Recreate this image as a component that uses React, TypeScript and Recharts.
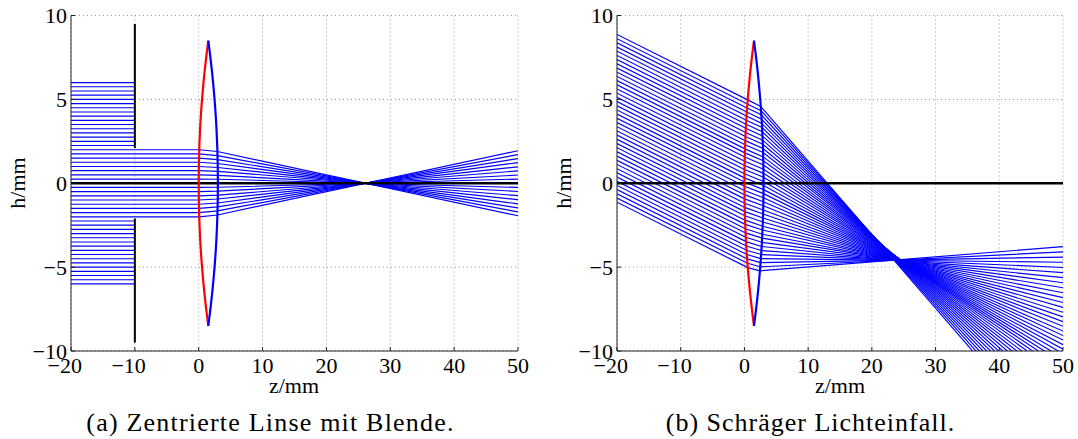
import React from 'react';
import { LineChart, Line, XAxis, YAxis, CartesianGrid } from 'recharts';

const zTicks = [-20, -10, 0, 10, 20, 30, 40, 50];
const hTicks = [-10, -5, 0, 5, 10];

// lens outline, one height list and the two surfaces
const lensH = [8.5, 8, 7.5, 7, 6.5, 6, 5.5, 5, 4.5, 4, 3.5, 3, 2.5, 2, 1.5, 1, 0.5, 0, -0.5, -1, -1.5, -2, -2.5, -3, -3.5, -4, -4.5, -5, -5.5, -6, -6.5, -7, -7.5, -8, -8.5];
const lensFrontZ = [1.5, 1.33, 1.17, 1.02, 0.88, 0.75, 0.63, 0.52, 0.42, 0.33, 0.25, 0.19, 0.13, 0.08, 0.05, 0.02, 0.01, 0, 0.01, 0.02, 0.05, 0.08, 0.13, 0.19, 0.25, 0.33, 0.42, 0.52, 0.63, 0.75, 0.88, 1.02, 1.17, 1.33, 1.5];
const lensBackZ = [1.5, 1.67, 1.83, 1.98, 2.12, 2.25, 2.37, 2.48, 2.58, 2.67, 2.75, 2.81, 2.87, 2.92, 2.95, 2.98, 2.99, 3, 2.99, 2.98, 2.95, 2.92, 2.87, 2.81, 2.75, 2.67, 2.58, 2.48, 2.37, 2.25, 2.12, 1.98, 1.83, 1.67, 1.5];

// panel (a): rays stopped by the aperture
const blockedH = [6, 5.75, 5.5, 5.25, 5, 4.75, 4.5, 4.25, 4, 3.75, 3.5, 3.25, 3, 2.75, 2.5, 2.25, -2.25, -2.5, -2.75, -3, -3.25, -3.5, -3.75, -4, -4.25, -4.5, -4.75, -5, -5.25, -5.5, -5.75, -6];
// panel (a): rays through the opening
const openH = [2, 1.75, 1.5, 1.25, 1, 0.75, 0.5, 0.25, 0, -0.25, -0.5, -0.75, -1, -1.25, -1.5, -1.75, -2];
const openFrontZ = [0.08, 0.06, 0.05, 0.03, 0.02, 0.01, 0.01, 0, 0, 0, 0.01, 0.01, 0.02, 0.03, 0.05, 0.06, 0.08];
const openBackZ = [2.92, 2.94, 2.96, 2.97, 2.98, 2.99, 2.99, 3, 3, 3, 2.99, 2.99, 2.98, 2.97, 2.96, 2.94, 2.92];
const openBackH = [1.89, 1.65, 1.41, 1.18, 0.94, 0.71, 0.47, 0.24, 0, -0.24, -0.47, -0.71, -0.94, -1.18, -1.41, -1.65, -1.89];
const openEndH = [-1.94, -1.71, -1.47, -1.23, -0.98, -0.74, -0.49, -0.25, 0, 0.25, 0.49, 0.74, 0.98, 1.23, 1.47, 1.71, 1.94];

// panel (b): oblique rays
const slantStartH = [8.87, 8.62, 8.37, 8.12, 7.87, 7.62, 7.37, 7.12, 6.87, 6.62, 6.37, 6.12, 5.87, 5.62, 5.37, 5.12, 4.87, 4.62, 4.37, 4.12, 3.87, 3.62, 3.37, 3.12, 2.87, 2.62, 2.37, 2.12, 1.87, 1.62, 1.37, 1.12, 0.87, 0.62, 0.37, 0.12, -0.13, -0.38, -0.63, -0.88, -1.13];
const slantFrontZ = [0.51, 0.46, 0.42, 0.375, 0.33, 0.295, 0.257, 0.223, 0.19, 0.162, 0.134, 0.11, 0.087, 0.068, 0.05, 0.036, 0.023, 0.014, 0.007, 0.002, 0, 0.001, 0.004, 0.01, 0.018, 0.029, 0.042, 0.059, 0.078, 0.1, 0.125, 0.152, 0.18, 0.215, 0.25, 0.29, 0.33, 0.38, 0.43, 0.48, 0.53];
const slantFrontH = [4.97, 4.73, 4.49, 4.25, 4.01, 3.76, 3.52, 3.28, 3.03, 2.79, 2.54, 2.3, 2.05, 1.81, 1.56, 1.31, 1.06, 0.82, 0.57, 0.32, 0.07, -0.18, -0.43, -0.68, -0.93, -1.19, -1.44, -1.69, -1.94, -2.2, -2.45, -2.71, -2.96, -3.22, -3.48, -3.74, -3.99, -4.25, -4.51, -4.77, -5.03];
const slantBackZ = [2.56, 2.61, 2.65, 2.7, 2.73, 2.77, 2.8, 2.83, 2.86, 2.89, 2.91, 2.93, 2.95, 2.96, 2.98, 2.99, 2.99, 3, 3, 3, 3, 2.99, 2.98, 2.97, 2.96, 2.95, 2.93, 2.91, 2.89, 2.87, 2.84, 2.81, 2.78, 2.74, 2.7, 2.67, 2.62, 2.58, 2.53, 2.48, 2.43];
const slantBackH = [4.58, 4.33, 4.08, 3.82, 3.57, 3.32, 3.07, 2.82, 2.57, 2.32, 2.07, 1.83, 1.57, 1.34, 1.09, 0.84, 0.59, 0.36, 0.11, -0.13, -0.38, -0.62, -0.86, -1.1, -1.34, -1.59, -1.83, -2.07, -2.31, -2.56, -2.79, -3.04, -3.27, -3.52, -3.77, -4.01, -4.25, -4.49, -4.73, -4.98, -5.22];
const slantEndH = [-16.22, -15.8, -15.39, -14.99, -14.6, -14.22, -13.85, -13.49, -13.14, -12.8, -12.47, -12.15, -11.84, -11.54, -11.25, -10.97, -10.7, -10.43, -10.16, -9.89, -9.62, -9.35, -9.08, -8.81, -8.53, -8.25, -7.97, -7.69, -7.4, -7.11, -6.82, -6.53, -6.23, -5.93, -5.63, -5.33, -5.02, -4.71, -4.4, -4.09, -3.78];

const axisZ = [-20, 50];
const apertureZ = -10;
const apertureUpper = [9.5, 2.1];
const apertureLower = [-2.1, -9.5];

const BLUE = '#0000ff';
const serif = '"Liberation Serif", serif';
const TICK_SIZE = 22;

const lensFront = lensH.map((h, i) => ({ z: lensFrontZ[i], h }));
const lensBack = lensH.map((h, i) => ({ z: lensBackZ[i], h }));
const axisLine = axisZ.map((z) => ({ z, h: 0 }));

const blockedRays = blockedH.map((h) => [{ z: axisZ[0], h }, { z: apertureZ, h }]);
const openRays = openH.map((h, i) => [
  { z: axisZ[0], h },
  { z: openFrontZ[i], h },
  { z: openBackZ[i], h: openBackH[i] },
  { z: axisZ[1], h: openEndH[i] },
]);
const slantRays = slantStartH.map((h, i) => [
  { z: axisZ[0], h },
  { z: slantFrontZ[i], h: slantFrontH[i] },
  { z: slantBackZ[i], h: slantBackH[i] },
  { z: axisZ[1], h: slantEndH[i] },
]);

const minus = (v: number) => String(v).replace('-', '\u2212');

// digits sit centred under the tick, the minus sign hangs off to the left
const ZTick = ({ x, payload }: any) => {
  const v = payload.value as number;
  const digits = String(Math.abs(v));
  const half = (digits.length * TICK_SIZE * 0.5) / 2;
  return (
    <g fontFamily={serif} fontSize={TICK_SIZE} fill="#000">
      <text x={x} y={373} textAnchor="middle">{digits}</text>
      {v < 0 && <text x={x - half} y={373} textAnchor="end">{'\u2212'}</text>}
    </g>
  );
};

const HTick = ({ y, payload, right }: any) => (
  <text x={right} y={y + 7.5} textAnchor="end" fontFamily={serif} fontSize={TICK_SIZE} fill="#000">
    {minus(payload.value)}
  </text>
);

const curve = (key: string, data: { z: number; h: number }[], stroke: string, width: number) => (
  <Line
    key={key}
    data={data}
    dataKey="h"
    stroke={stroke}
    strokeWidth={width}
    dot={false}
    activeDot={false}
    isAnimationActive={false}
  />
);

const panel = (left: number, axisWidth: number, rays: { z: number; h: number }[][], aperture: boolean) => (
  <div style={{ position: 'absolute', left, top: 0 }}>
    <LineChart
      width={530}
      height={400}
      margin={{ top: 15.5, right: 12, bottom: 0, left: 0 }}
      style={{ overflow: 'visible' }}
    >
      <CartesianGrid stroke="#999" strokeDasharray="1 3" horizontalValues={hTicks} verticalValues={zTicks} />
      <XAxis
        dataKey="z"
        type="number"
        domain={axisZ}
        ticks={zTicks}
        allowDataOverflow
        height={49}
        interval={0}
        tickSize={-4}
        tick={<ZTick />}
        stroke="#222"
        tickLine={{ stroke: '#222' }}
      />
      <YAxis
        dataKey="h"
        type="number"
        domain={[-10, 10]}
        ticks={hTicks}
        allowDataOverflow
        width={axisWidth}
        interval={0}
        tickSize={-4}
        tick={<HTick right={axisWidth - 4} />}
        stroke="#222"
        tickLine={{ stroke: '#222' }}
      />
      {rays.map((r, i) => curve(`ray-${i}`, r, BLUE, 1.15))}
      {curve('axis', axisLine, '#000', 2.4)}
      {aperture && curve('stop-up', apertureUpper.map((h) => ({ z: apertureZ, h })), '#000', 2)}
      {aperture && curve('stop-down', apertureLower.map((h) => ({ z: apertureZ, h })), '#000', 2)}
      {curve('front', lensFront, '#ff0000', 2.2)}
      {curve('back', lensBack, BLUE, 2.2)}
    </LineChart>
  </div>
);

const text = (label: string, x: number, y: number, size: number, rotate = 0, spacing = 0) => (
  <div
    style={{
      position: 'absolute',
      left: x,
      top: y,
      transform: `translate(-50%, -50%) rotate(${rotate}deg)`,
      fontFamily: serif,
      fontSize: size,
      letterSpacing: spacing,
      whiteSpace: 'nowrap',
      color: '#000',
    }}
  >
    {label}
  </div>
);

export default function App() {
  return (
    <div style={{ position: 'fixed', left: 0, top: 0, width: 1078, height: 439, background: '#fff', overflow: 'hidden' }}>
      {panel(0, 71, [...blockedRays, ...openRays], true)}
      {panel(545, 72, slantRays, false)}
      {text('h/mm', 18, 183, 22, -90)}
      {text('h/mm', 564, 183, 22, -90)}
      {text('z/mm', 294, 386, 22)}
      {text('z/mm', 840, 386, 22)}
      {text('(a) Zentrierte Linse mit Blende.', 270.5, 423, 26, 0, 1.2)}
      {text('(b) Schräger Lichteinfall.', 810.5, 423, 26, 0, 1)}
    </div>
  );
}
